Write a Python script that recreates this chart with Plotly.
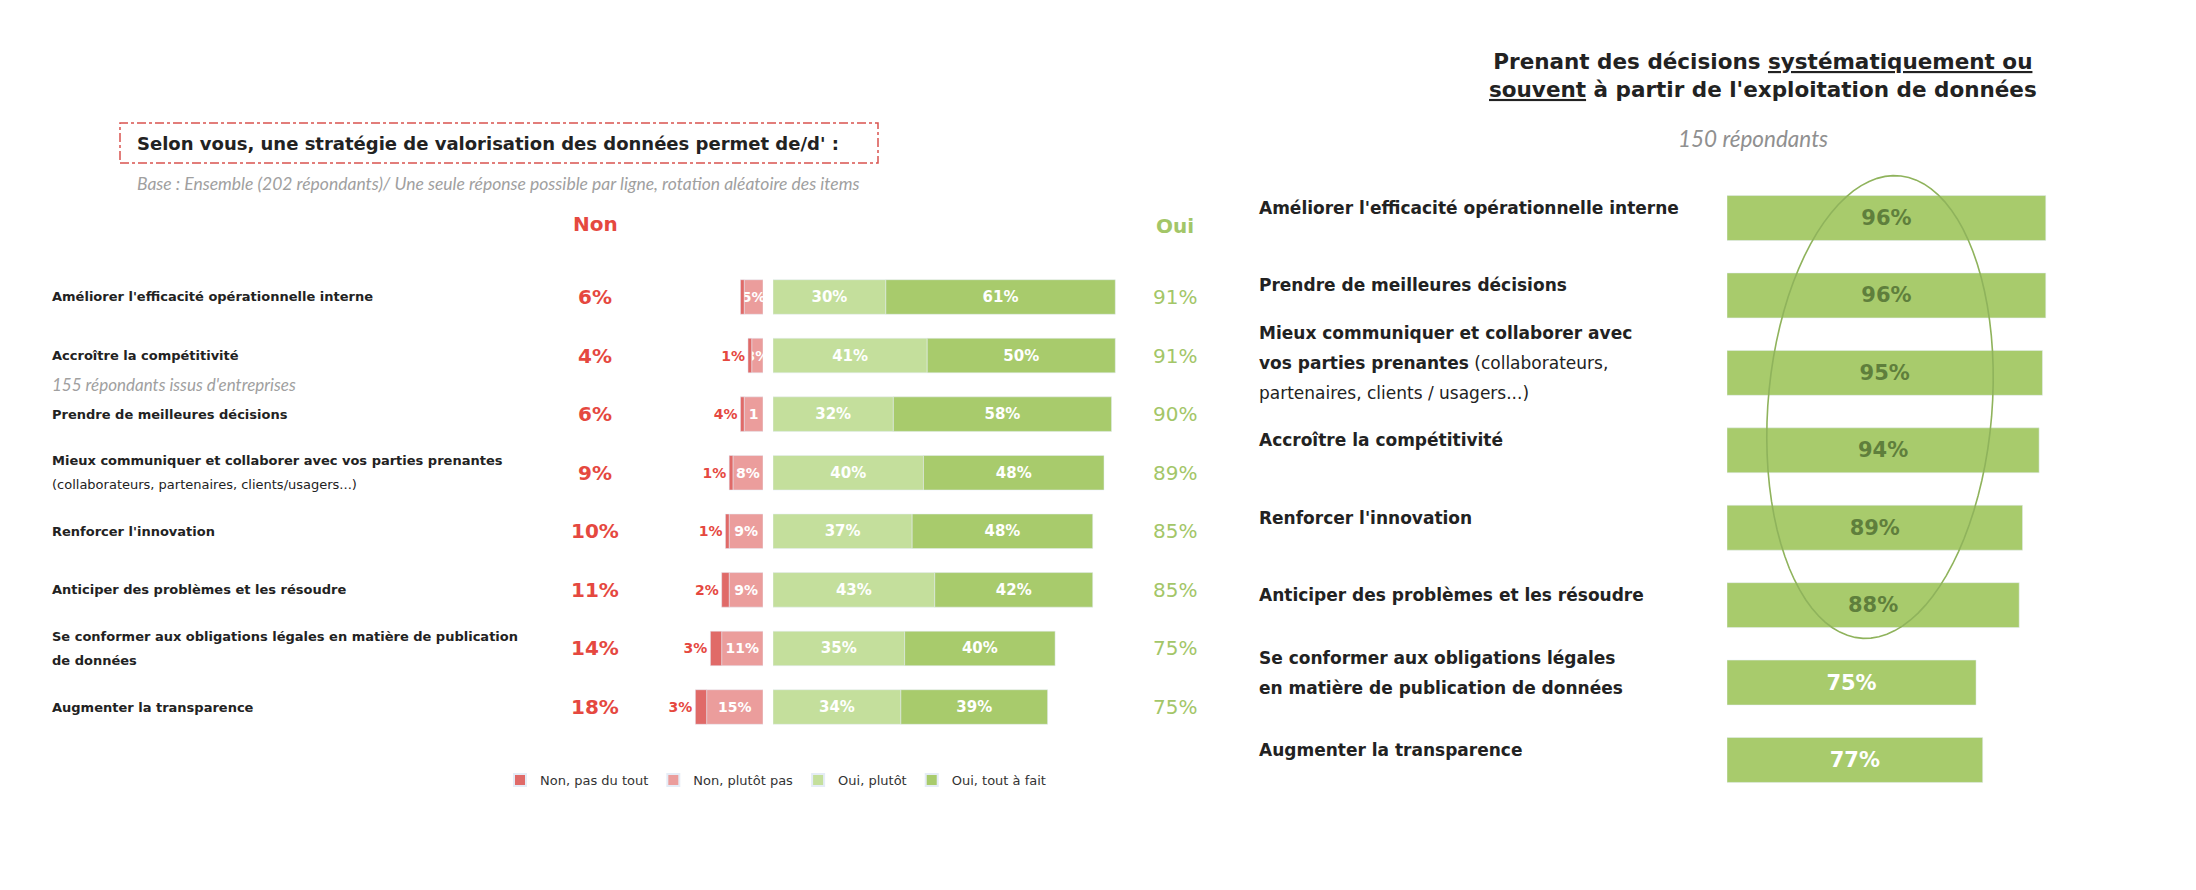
import numpy as np
import plotly.graph_objects as go

# --- données (lecture du graphique) ---
items_left = [
    "Améliorer l'efficacité opérationnelle interne",
    "Accroître la compétitivité",
    "Prendre de meilleures décisions",
    "Mieux communiquer et collaborer avec vos parties prenantes",
    "Renforcer l'innovation",
    "Anticiper des problèmes et les résoudre",
    "Se conformer aux obligations légales en matière de publication de données",
    "Augmenter la transparence",
]
labels_left = [
    ["<b>Améliorer l'efficacité opérationnelle interne</b>"],
    ["<b>Accroître la compétitivité</b>"],
    ["<b>Prendre de meilleures décisions</b>"],
    ["<b>Mieux communiquer et collaborer avec vos parties prenantes</b>",
     "(collaborateurs, partenaires, clients/usagers...)"],
    ["<b>Renforcer l'innovation</b>"],
    ["<b>Anticiper des problèmes et les résoudre</b>"],
    ["<b>Se conformer aux obligations légales en matière de publication</b>",
     "<b>de données</b>"],
    ["<b>Augmenter la transparence</b>"],
]
non_pas_du_tout = [1, 1, 1, 1, 1, 2, 3, 3]
non_plutot_pas = [5, 3, 5, 8, 9, 9, 11, 15]
oui_plutot = [30, 41, 32, 40, 37, 43, 35, 34]
oui_tout_a_fait = [61, 50, 58, 48, 48, 42, 40, 39]
txt_pas_du_tout = ["", "1%", "4%", "1%", "1%", "2%", "3%", "3%"]
txt_plutot_pas = ["5%", "3%", "1", "8%", "9%", "9%", "11%", "15%"]
total_non = [6, 4, 6, 9, 10, 11, 14, 18]
total_oui = [91, 91, 90, 89, 85, 85, 75, 75]

items_right = [
    "Améliorer l'efficacité opérationnelle interne",
    "Prendre de meilleures décisions",
    "Mieux communiquer et collaborer avec vos parties prenantes",
    "Accroître la compétitivité",
    "Renforcer l'innovation",
    "Anticiper des problèmes et les résoudre",
    "Se conformer aux obligations légales en matière de publication de données",
    "Augmenter la transparence",
]
labels_right = [
    ["<b>Améliorer l'efficacité opérationnelle interne</b>"],
    ["<b>Prendre de meilleures décisions</b>"],
    ["<b>Mieux communiquer et collaborer avec</b>",
     "<b>vos parties prenantes</b> (collaborateurs,",
     "partenaires, clients / usagers...)"],
    ["<b>Accroître la compétitivité</b>"],
    ["<b>Renforcer l'innovation</b>"],
    ["<b>Anticiper des problèmes et les résoudre</b>"],
    ["<b>Se conformer aux obligations légales</b>",
     "<b>en matière de publication de données</b>"],
    ["<b>Augmenter la transparence</b>"],
]
decisions = [96, 96, 95, 94, 89, 88, 75, 77]

W, H = 2196, 890
DX, DY = -8, -8  # compense la marge par défaut de la page
RED_DARK = "#e06a68"
RED_LIGHT = "#eb9d9c"
GREEN_LIGHT = "#c4df9c"
GREEN_DARK = "#a8cb6c"
RED_TXT = "#e5483f"
GREEN_TXT = "#a3c668"
FONT = "DejaVu Sans"
FONT_IT = "Lato"


def px(x):
    return (x + DX) / W


def py(y):
    return 1 - (y + DY) / H


fig = go.Figure()

# --- graphique de gauche : barres divergentes ---
fig.add_trace(go.Bar(
    y=items_left, x=[-v for v in non_plutot_pas], orientation="h",
    name="Non, plutôt pas", legendrank=2, xaxis="x", yaxis="y",
    marker_color=RED_LIGHT, text=[f"<b>{s}</b>" for s in txt_plutot_pas],
    textposition="inside", insidetextanchor="middle", constraintext="none",
    textangle=0, textfont=dict(color="white", size=14, family=FONT),
))
fig.add_trace(go.Bar(
    y=items_left, x=[-v for v in non_pas_du_tout], orientation="h",
    name="Non, pas du tout", legendrank=1, xaxis="x", yaxis="y",
    marker_color=RED_DARK, text=[f"<b>{s}</b>" for s in txt_pas_du_tout],
    textposition="outside", constraintext="none", cliponaxis=False,
    textangle=0, textfont=dict(color=RED_TXT, size=14, family=FONT),
))
fig.add_trace(go.Bar(
    y=items_left, x=oui_plutot, orientation="h",
    name="Oui, plutôt", legendrank=3, xaxis="x2", yaxis="y",
    marker_color=GREEN_LIGHT, text=[f"<b>{v}%</b>" for v in oui_plutot],
    textposition="inside", insidetextanchor="middle", textangle=0,
    textfont=dict(color="white", size=15, family=FONT),
))
fig.add_trace(go.Bar(
    y=items_left, x=oui_tout_a_fait, orientation="h",
    name="Oui, tout à fait", legendrank=4, xaxis="x2", yaxis="y",
    marker_color=GREEN_DARK, text=[f"<b>{v}%</b>" for v in oui_tout_a_fait],
    textposition="inside", insidetextanchor="middle", textangle=0,
    textfont=dict(color="white", size=15, family=FONT),
))

# --- graphique de droite ---
fig.add_trace(go.Bar(
    y=items_right, x=decisions, orientation="h", showlegend=False,
    xaxis="x3", yaxis="y3", marker_color=GREEN_DARK, width=0.58,
    text=[f"<b>{v}%</b>" for v in decisions], textposition="inside",
    insidetextanchor="middle", textangle=0,
    textfont=dict(color=["#5f7f3c"] * 6 + ["white"] * 2, size=21, family=FONT),
))

for tr in fig.data[:4]:
    tr.width = 0.59

annotations = []


def note(x, y, text, size, color, family=FONT, xanchor="center"):
    annotations.append(dict(
        x=x, y=y, xref="paper", yref="paper", xanchor=xanchor,
        yanchor="middle", text=text, showarrow=False,
        font=dict(size=size, color=color, family=family),
    ))


def add_lines(lines, x, yref, yval, spacing, size, shift=0):
    n = len(lines)
    for i, line in enumerate(lines):
        annotations.append(dict(
            x=x, xref="paper", xanchor="left", y=yval, yref=yref,
            yanchor="middle", yshift=shift + ((n - 1) / 2 - i) * spacing,
            text=line, showarrow=False,
            font=dict(size=size, color="#222", family=FONT),
        ))


for item, lines in zip(items_left, labels_left):
    add_lines(lines, px(50), "y", item, 24, 13)

annotations.append(dict(
    x=px(50), xref="paper", xanchor="left", y=items_left[1], yref="y",
    yanchor="middle", yshift=-29,
    text="<i>155 répondants issus d'entreprises</i>",
    showarrow=False, font=dict(size=17, color="#a0a0a0", family=FONT_IT),
))

for item, v in zip(items_left, total_non):
    annotations.append(dict(
        x=px(595), xref="paper", xanchor="center", y=item, yref="y",
        yanchor="middle", text=f"<b>{v}%</b>", showarrow=False,
        font=dict(size=20, color=RED_TXT, family=FONT),
    ))
for item, v in zip(items_left, total_oui):
    annotations.append(dict(
        x=px(1175), xref="paper", xanchor="center", y=item, yref="y",
        yanchor="middle", text=f"{v}%", showarrow=False,
        font=dict(size=20, color=GREEN_TXT, family=FONT),
    ))

note(px(595), py(224), "<b>Non</b>", 20, RED_TXT)
note(px(1175), py(226), "<b>Oui</b>", 20, GREEN_TXT)
note(px(135), py(143),
     "<b>Selon vous, une stratégie de valorisation des données permet de/d' :</b>",
     18, "#222", xanchor="left")
note(px(135), py(183),
     "<i>Base : Ensemble (202 répondants)/ Une seule réponse possible par ligne, rotation aléatoire des items</i>",
     17.5, "#a0a0a0", family=FONT_IT, xanchor="left")
note(px(1763), py(76),
     "<b>Prenant des décisions <u>systématiquement ou</u><br><u>souvent</u> à partir de l'exploitation de données</b>",
     21.5, "#222")
note(px(1753), py(138), "<i>150 répondants</i>", 22.5, "#909090", family=FONT_IT)

for item, lines in zip(items_right, labels_right):
    add_lines(lines, px(1257), "y3", item, 30, 17, shift=10)

# ellipse autour des premiers résultats
t = np.linspace(0, 2 * np.pi, 90)
theta = np.radians(4.7)
ex = 1880 + 112 * np.cos(t) * np.cos(theta) - 232 * np.sin(t) * np.sin(theta)
ey = 407 + 112 * np.cos(t) * np.sin(theta) + 232 * np.sin(t) * np.cos(theta)
path = "M " + " L ".join(f"{px(a):.5f},{py(b):.5f}" for a, b in zip(ex, ey)) + " Z"

shapes = [
    dict(type="rect", xref="paper", yref="paper",
         x0=px(120), x1=px(878), y0=py(163), y1=py(123),
         line=dict(color="#d9534f", width=1.5, dash="dashdot")),
    dict(type="path", xref="paper", yref="paper", path=path,
         line=dict(color="#8fb35c", width=1.6)),
]

hidden = dict(showgrid=False, zeroline=False, showticklabels=False, showline=False)

fig.update_layout(
    width=W, height=H,
    margin=dict(l=0, r=0, t=0, b=0),
    paper_bgcolor="white", plot_bgcolor="white",
    barmode="relative",
    font=dict(family=FONT, color="#222"),
    xaxis=dict(domain=[px(571), px(763)], range=[-51.1, 0], **hidden),
    xaxis2=dict(domain=[px(773), px(1142)], range=[0, 98.1], anchor="y", **hidden),
    yaxis=dict(domain=[py(736.3), py(267.7)], autorange="reversed", **hidden),
    xaxis3=dict(domain=[px(1727), px(2163)], range=[0, 131.3], anchor="y3", **hidden),
    yaxis3=dict(domain=[py(798.7), py(179.3)], autorange="reversed", anchor="x3", **hidden),
    legend=dict(orientation="h", x=px(500), y=py(780), xanchor="left",
                yanchor="middle", font=dict(size=13, color="#333", family=FONT),
                itemsizing="constant", traceorder="normal"),
    annotations=annotations,
    shapes=shapes,
)

fig.write_html("out.html")
